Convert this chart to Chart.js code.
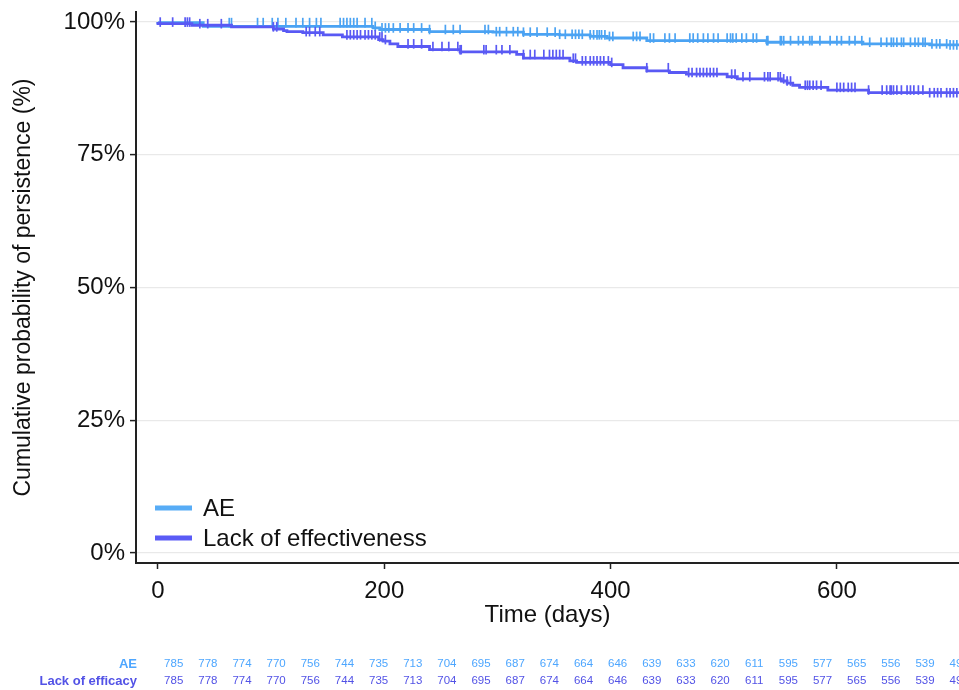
<!DOCTYPE html>
<html>
<head>
<meta charset="utf-8">
<script src="https://cdn.jsdelivr.net/npm/chart.js@4"></script>
<style>
  html, body { margin: 0; padding: 0; background: #fff; }
  #wrap { width: 959px; height: 690px; position: relative; }
</style>
</head>
<body>
<div id="wrap"><canvas id="myChart" width="959" height="690"></canvas></div>
<script>
// Kaplan-Meier steps (day, % persisting)
const aeTimes = [0, 40, 190, 196, 240, 296, 323, 355, 382, 397, 432, 538, 623, 682, 700, 710];
const aeSurv  = [100, 99.9, 99.2, 98.9, 98.6, 98.2, 98.1, 97.7, 97.6, 97.3, 97.0, 96.5, 96.2, 95.9, 95.7, 95.7];

const lackTimes = [0, 30, 65, 102, 111, 114, 128, 146, 163, 195, 199, 205, 212, 240, 267, 317, 323, 364, 370, 400, 411, 432, 452, 467, 503, 512, 551, 556, 561, 567, 592, 628, 682, 710];
const lackSurv  = [100, 99.7, 99.4, 99.1, 98.7, 98.4, 98.2, 98.0, 97.6, 97.2, 96.7, 96.4, 95.9, 95.4, 94.8, 94.4, 93.9, 93.2, 92.7, 92.4, 92.0, 91.4, 90.8, 90.5, 90.2, 89.7, 89.3, 88.9, 88.5, 88.1, 87.7, 87.2, 86.7, 86.7];

// censored observations (days)
const aeCensor = [63, 65, 88, 93, 101, 106, 113, 122, 128, 134, 140, 144, 161, 164, 167, 170, 173,
  176, 183, 189, 192, 198, 201, 204, 208, 214, 221, 226, 233, 240, 254, 261, 267, 289, 292, 299, 302, 308, 314, 318, 323, 329, 335, 344, 351,
  355, 360, 366, 369, 372, 375, 382, 385, 388, 390, 392, 395, 399, 402, 420, 423, 426, 435, 438, 448, 452, 457, 470, 473, 477, 482, 486, 491, 495, 503, 506, 508, 511, 516, 520, 526, 529,
  538, 539, 550, 551, 553, 559, 566, 570, 576, 578, 585, 594, 600, 604, 611, 616, 622, 629, 639, 644, 648, 650, 653, 657, 659, 665, 669, 672, 676, 678, 684, 688, 691, 697, 700, 703, 706];
const lackCensor = [2, 13, 24, 26, 28, 37, 44, 56, 102, 105, 131, 134, 139, 143, 167, 170,
  173, 176, 179, 183, 186, 189, 192, 196, 198, 201, 221, 226, 233, 243, 251, 257, 265, 267, 268, 288, 290, 299, 304, 311, 323, 329, 333, 341, 346,
  349, 352, 355, 358, 367, 369, 375, 378, 382, 385, 388, 391, 394, 398, 401, 432, 451, 469, 472, 476, 479, 482, 485, 488, 491, 494, 507, 510, 517, 523,
  536, 539, 541, 548, 550, 553, 556, 559, 572, 574, 576, 579, 582, 586, 600, 603, 606, 610, 613, 616, 628, 640, 644, 647, 648, 650, 653, 657, 662, 665, 668, 672, 676, 682, 686, 689, 692, 697, 700, 703, 706];

const xTicks = [0, 200, 400, 600];
const yTicks = [0, 25, 50, 75, 100];

// numbers at risk
const riskLabels = ["AE", "Lack of efficacy"];
const riskAE   = [785, 778, 774, 770, 756, 744, 735, 713, 704, 695, 687, 674, 664, 646, 639, 633, 620, 611, 595, 577, 565, 556, 539, 498];
const riskLack = [785, 778, 774, 770, 756, 744, 735, 713, 704, 695, 687, 674, 664, 646, 639, 633, 620, 611, 595, 577, 565, 556, 539, 498];

const seriesNames = ["AE", "Lack of effectiveness"];
const aeColor = "#4ba3f3";
const lackColor = "#5959f4";
const FONT = "'Liberation Sans', Arial, sans-serif";

function stepValue(times, surv, t) {
  var v = surv[0];
  for (var i = 0; i < times.length; i++) {
    if (times[i] <= t) v = surv[i];
  }
  return v;
}

function toPoints(times, surv) {
  return times.map(function (t, i) { return { x: t, y: surv[i] }; });
}

function censorPoints(list, times, surv) {
  return list.map(function (t) { return { x: t, y: stepValue(times, surv, t) }; });
}

// legend in the lower left corner + number-at-risk table
const extras = {
  id: "extras",
  afterDraw: function (chart) {
    const ctx = chart.ctx;
    const area = chart.chartArea;
    ctx.save();

    // legend
    const items = [[seriesNames[0], "#57acf6"], [seriesNames[1], "#5a5bf6"]];
    items.forEach(function (it, i) {
      const y = area.bottom - 55 + i * 30;
      ctx.strokeStyle = it[1];
      ctx.lineWidth = 5;
      ctx.beginPath();
      ctx.moveTo(area.left + 19, y);
      ctx.lineTo(area.left + 56, y);
      ctx.stroke();
      ctx.fillStyle = "#111";
      ctx.font = "24px " + FONT;
      ctx.textAlign = "left";
      ctx.textBaseline = "middle";
      ctx.fillText(it[0], area.left + 67, y + 1);
    });

    // risk table
    const rows = [[riskLabels[0], riskAE, "#4da6ff"], [riskLabels[1], riskLack, "#5252e6"]];
    const colLeft = 173.7, colGap = 34.15;
    rows.forEach(function (r, i) {
      const y = 664 + i * 17;
      ctx.fillStyle = r[2];
      ctx.font = "bold 13px " + FONT;
      ctx.textAlign = "right";
      ctx.textBaseline = "middle";
      ctx.fillText(r[0], 137, y);
      ctx.font = "11.5px " + FONT;
      ctx.textAlign = "center";
      r[1].forEach(function (n, j) {
        ctx.fillText(String(n), colLeft + j * colGap, y);
      });
    });
    ctx.restore();
  }
};

const censorStyle = {
  showLine: false,
  pointStyle: "line",
  pointRotation: 90,
  pointRadius: 4.8,
  pointBorderWidth: 1.7,
  pointHoverRadius: 0
};

new Chart(document.getElementById("myChart"), {
  type: "line",
  data: {
    datasets: [
      Object.assign({ label: "lack-censor", data: censorPoints(lackCensor, lackTimes, lackSurv), borderColor: lackColor, order: 1 }, censorStyle),
      { label: seriesNames[1], data: toPoints(lackTimes, lackSurv), borderColor: lackColor, borderWidth: 2.8, stepped: "after", pointRadius: 0, order: 2 },
      Object.assign({ label: "ae-censor", data: censorPoints(aeCensor, aeTimes, aeSurv), borderColor: aeColor, order: 3 }, censorStyle),
      { label: seriesNames[0], data: toPoints(aeTimes, aeSurv), borderColor: aeColor, borderWidth: 2.8, stepped: "after", pointRadius: 0, order: 4 }
    ]
  },
  options: {
    responsive: false,
    animation: false,
    layout: { autoPadding: false, padding: { top: 12, right: 0, bottom: 50, left: 0 } },
    plugins: { legend: { display: false }, tooltip: { enabled: false } },
    scales: {
      x: {
        type: "linear",
        min: -19.4,
        max: 707.9,
        afterBuildTicks: function (s) { s.ticks = xTicks.map(function (v) { return { value: v }; }); },
        afterFit: function (s) { s.height = 77; s.paddingLeft = 0; s.paddingRight = 0; },
        grid: { drawOnChartArea: false, drawTicks: true, tickLength: 6, tickColor: "#222", tickWidth: 1.5 },
        border: { color: "#222", width: 2 },
        ticks: { color: "#111", font: { family: FONT, size: 24 }, padding: 8, maxRotation: 0 },
        title: { display: true, text: "Time (days)", color: "#111", font: { family: FONT, size: 24 }, padding: { top: 0, bottom: 10 } }
      },
      y: {
        min: -1.9,
        max: 101.9,
        afterBuildTicks: function (s) { s.ticks = yTicks.map(function (v) { return { value: v }; }); },
        afterFit: function (s) { s.width = 136; s.paddingTop = 0; s.paddingBottom = 0; },
        grid: { color: "#e9e9e9", lineWidth: 1.2, tickLength: 6, tickColor: "#222", tickWidth: 1.5 },
        border: { color: "#222", width: 2 },
        ticks: { color: "#111", font: { family: FONT, size: 24 }, padding: 5, callback: function (v) { return v + "%"; } },
        title: { display: true, text: "Cumulative probability of persistence (%)", color: "#111", font: { family: FONT, size: 23 }, padding: { top: 10, bottom: 0 } }
      }
    }
  },
  plugins: [extras]
});
</script>
</body>
</html>
